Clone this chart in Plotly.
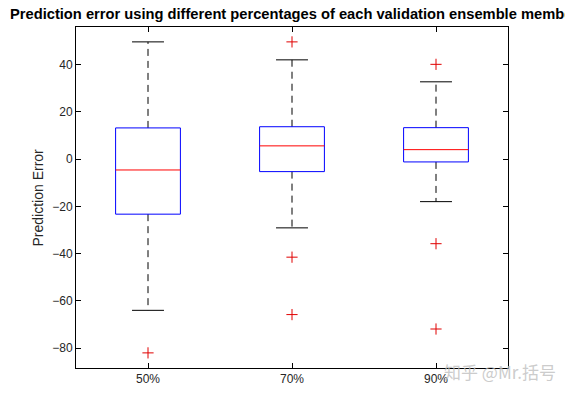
import plotly.graph_objects as go

# ---- data ----
labels = ["50%", "70%", "90%"]
q1 = [-23.3, -5.3, -1.2]
median = [-4.6, 5.6, 4.0]
q3 = [13.2, 13.7, 13.3]
lower_whisker = [-64.0, -29.1, -18.0]
upper_whisker = [49.6, 42.0, 32.7]
outliers = [[-82.0], [49.6, -41.5, -65.8], [40.1, -35.8, -71.9]]

title = "Prediction error using different percentages of each validation ensemble members"
ylabel = "Prediction Error"
yticks = [-80, -60, -40, -20, 0, 20, 40]

BOX_HW = 0.225
CAP_HW = 0.111

positions = list(range(1, len(labels) + 1))

bx, by, mx, my, wx, wy, cx, cy, ox, oy = [], [], [], [], [], [], [], [], [], []
for p, a, m, b, lo, hi, outs in zip(positions, q1, median, q3, lower_whisker, upper_whisker, outliers):
    bx += [p - BOX_HW, p + BOX_HW, p + BOX_HW, p - BOX_HW, p - BOX_HW, None]
    by += [a, a, b, b, a, None]
    mx += [p - BOX_HW, p + BOX_HW, None]
    my += [m, m, None]
    wx += [p, p, None, p, p, None]
    wy += [b, hi, None, a, lo, None]
    cx += [p - CAP_HW, p + CAP_HW, None, p - CAP_HW, p + CAP_HW, None]
    cy += [hi, hi, None, lo, lo, None]
    for o in outs:
        ox.append(p)
        oy.append(o)

fig = go.Figure()
fig.add_trace(go.Scatter(x=wx, y=wy, mode="lines", line=dict(color="black", width=1, dash="7px,5px"), hoverinfo="skip"))
fig.add_trace(go.Scatter(x=cx, y=cy, mode="lines", line=dict(color="black", width=1), hoverinfo="skip"))
fig.add_trace(go.Scatter(x=bx, y=by, mode="lines", line=dict(color="#0000ff", width=1), hoverinfo="skip"))
fig.add_trace(go.Scatter(x=mx, y=my, mode="lines", line=dict(color="#ff0000", width=1), hoverinfo="skip"))
fig.add_trace(go.Scatter(x=ox, y=oy, mode="markers",
                         marker=dict(symbol="cross-thin", size=8, line=dict(color="#e00000", width=1)),
                         hoverinfo="skip"))

# page body has an 8px offset; margins compensate for it
OFF = 8
W, H = 573, 399
L, R, T, B = 76 - OFF, W - (508 - OFF), 27 - OFF, H - (368 - OFF)
pw = W - L - R

fig.update_layout(
    width=W, height=H,
    margin=dict(l=L, r=R, t=T, b=B),
    paper_bgcolor="white", plot_bgcolor="white",
    showlegend=False,
    font=dict(family="Liberation Sans, Arial, sans-serif", size=12, color="#262626"),
    xaxis=dict(range=[0.5, len(labels) + 0.5], tickvals=positions, ticktext=labels,
               showgrid=False, zeroline=False, showline=True, linecolor="black", linewidth=1,
               mirror="ticks", ticks="inside", ticklen=5, tickcolor="black",
               tickfont=dict(size=12, color="#262626")),
    yaxis=dict(range=[-88.4, 55.9], tickvals=yticks,
               showgrid=False, zeroline=False, showline=True, linecolor="black", linewidth=1,
               mirror="ticks", ticks="inside", ticklen=5, tickcolor="black",
               tickfont=dict(size=12, color="#262626")),
    annotations=[
        dict(text="<b>" + title + "</b>", xref="paper", yref="paper",
             x=(8 - OFF - L) / pw, y=1, yshift=3, xanchor="left", yanchor="bottom", showarrow=False,
             font=dict(size=14.7, color="black", family="Liberation Sans, Arial, sans-serif")),
        dict(text=ylabel, xref="paper", yref="paper", x=(37 - OFF - L) / pw, y=0.5,
             xanchor="center", yanchor="middle", textangle=-90, showarrow=False,
             font=dict(size=14, color="#262626")),
        dict(text="知乎 @Mr.括号", xref="paper", yref="paper", x=(558 - OFF - L) / pw, y=0,
             yshift=-3, xanchor="right", yanchor="middle", showarrow=False,
             font=dict(size=17, color="rgba(190,190,190,0.8)", family="Noto Sans CJK SC")),
    ],
)

fig.write_html("out.html")
